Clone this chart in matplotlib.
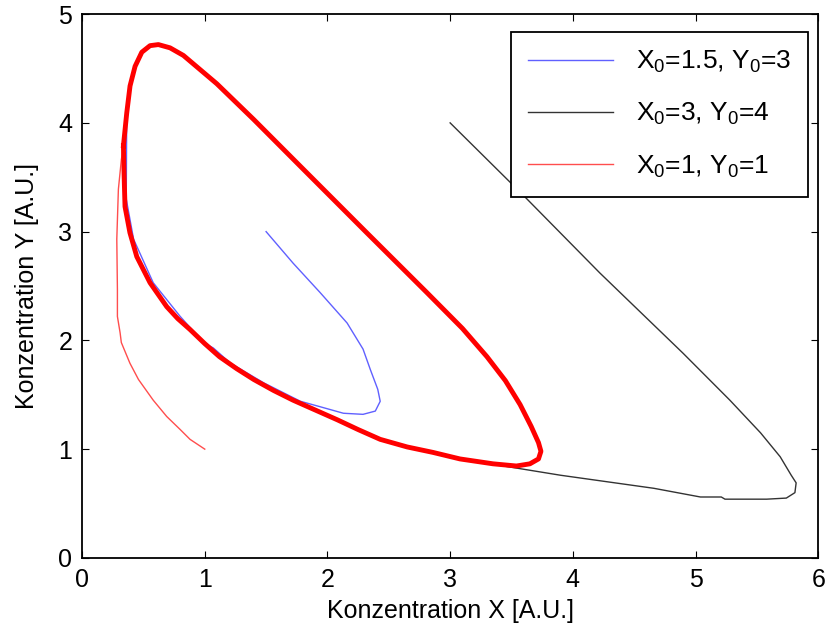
import numpy as np
import matplotlib.pyplot as plt

plt.rcParams["font.family"] = ["Liberation Sans", "DejaVu Sans"]
plt.rcParams["mathtext.fontset"] = "custom"
plt.rcParams["mathtext.rm"] = "Liberation Sans"

# limit cycle (clockwise, starting on left flank)
cycle_x = [0.337, 0.364, 0.391, 0.432, 0.487, 0.554, 0.622, 0.717, 0.826, 0.962, 1.098,
           1.40, 1.78, 2.32, 2.81, 3.10, 3.30, 3.45, 3.57, 3.66, 3.72, 3.74, 3.72, 3.65,
           3.54, 3.35, 3.08, 2.86, 2.65, 2.43, 2.25, 2.08, 1.90, 1.72, 1.56, 1.40, 1.26,
           1.12, 1.00, 0.88, 0.78, 0.69, 0.554, 0.446, 0.39, 0.35, 0.342, 0.337]
cycle_y = [3.79, 4.09, 4.34, 4.52, 4.65, 4.71, 4.72, 4.69, 4.62, 4.49, 4.36,
           4.03, 3.60, 2.99, 2.44, 2.11, 1.85, 1.63, 1.41, 1.21, 1.06, 0.98, 0.91, 0.865,
           0.845, 0.865, 0.91, 0.97, 1.02, 1.09, 1.18, 1.27, 1.36, 1.45, 1.54, 1.64, 1.74,
           1.85, 1.97, 2.10, 2.20, 2.31, 2.53, 2.77, 2.99, 3.23, 3.54, 3.79]

# transients
blue_x = [1.50, 1.72, 1.94, 2.16, 2.29, 2.35, 2.41, 2.43, 2.39, 2.29, 2.13, 1.94, 1.78,
          1.48, 1.21, 1.07, 0.99, 0.80, 0.58, 0.42, 0.36]
blue_y = [3.00, 2.71, 2.44, 2.16, 1.92, 1.73, 1.55, 1.44, 1.35, 1.32, 1.33, 1.39, 1.44,
          1.61, 1.79, 1.93, 1.98, 2.22, 2.53, 2.93, 3.30]

black_x = [3.00, 3.60, 4.22, 4.90, 5.28, 5.53, 5.69, 5.78, 5.82, 5.81, 5.74, 5.58, 5.24,
           5.21, 5.04, 4.66, 3.90, 3.30]
black_y = [4.00, 3.33, 2.62, 1.88, 1.45, 1.15, 0.93, 0.76, 0.69, 0.60, 0.55, 0.54, 0.54,
           0.56, 0.56, 0.64, 0.76, 0.87]

red_x = [1.00, 0.88, 0.80, 0.69, 0.58, 0.46, 0.39, 0.32, 0.31, 0.288, 0.288, 0.283,
         0.296, 0.32, 0.337]
red_y = [1.00, 1.09, 1.18, 1.30, 1.45, 1.64, 1.79, 1.98, 2.07, 2.22, 2.47, 2.93,
         3.39, 3.66, 3.79]

labels = [r"$\mathregular{X_0}$=1.5, $\mathregular{Y_0}$=3",
          r"$\mathregular{X_0}$=3, $\mathregular{Y_0}$=4",
          r"$\mathregular{X_0}$=1, $\mathregular{Y_0}$=1"]

fig = plt.figure(figsize=(8.29, 6.42), dpi=100)
ax = fig.add_axes([0.099, 0.131, 0.888, 0.847])

cx = np.array(cycle_x)
cy = np.array(cycle_y)
# blue and black end up on the cycle too
ax.plot(np.r_[blue_x, cx[1:]], np.r_[blue_y, cy[1:]], color="#6060ff", lw=1.0,
        label=labels[0], solid_joinstyle="round")
ax.plot(np.r_[black_x, cx[25:]], np.r_[black_y, cy[25:]], color="#333333", lw=1.0,
        label=labels[1], solid_joinstyle="round")
ax.plot(red_x, red_y, color="#ff4d4d", lw=1.0, label=labels[2], solid_joinstyle="round")
ax.plot(cx, cy, color="#ff0000", lw=3.5, solid_joinstyle="round")

ax.set_xlim(0, 6)
ax.set_ylim(0, 5)
ax.set_xticks(range(7))
ax.set_yticks(range(6))
ax.tick_params(direction="in", top=True, right=True, length=5, labelsize=18, pad=7)
for s in ax.spines.values():
    s.set_linewidth(1.3)
ax.set_xlabel("Konzentration X [A.U.]", fontsize=18, labelpad=5)
ax.set_ylabel("Konzentration Y [A.U.]", fontsize=18, labelpad=14)

leg = ax.legend(loc="upper right", bbox_to_anchor=(0.986, 0.967), borderaxespad=0,
                fontsize=19, handlelength=3.2, labelspacing=0.98,
                fancybox=False, edgecolor="black", framealpha=1,
                handletextpad=0.87, borderpad=0.65)
leg.get_frame().set_linewidth(1.3)

fig.savefig("out.png", dpi=100)
